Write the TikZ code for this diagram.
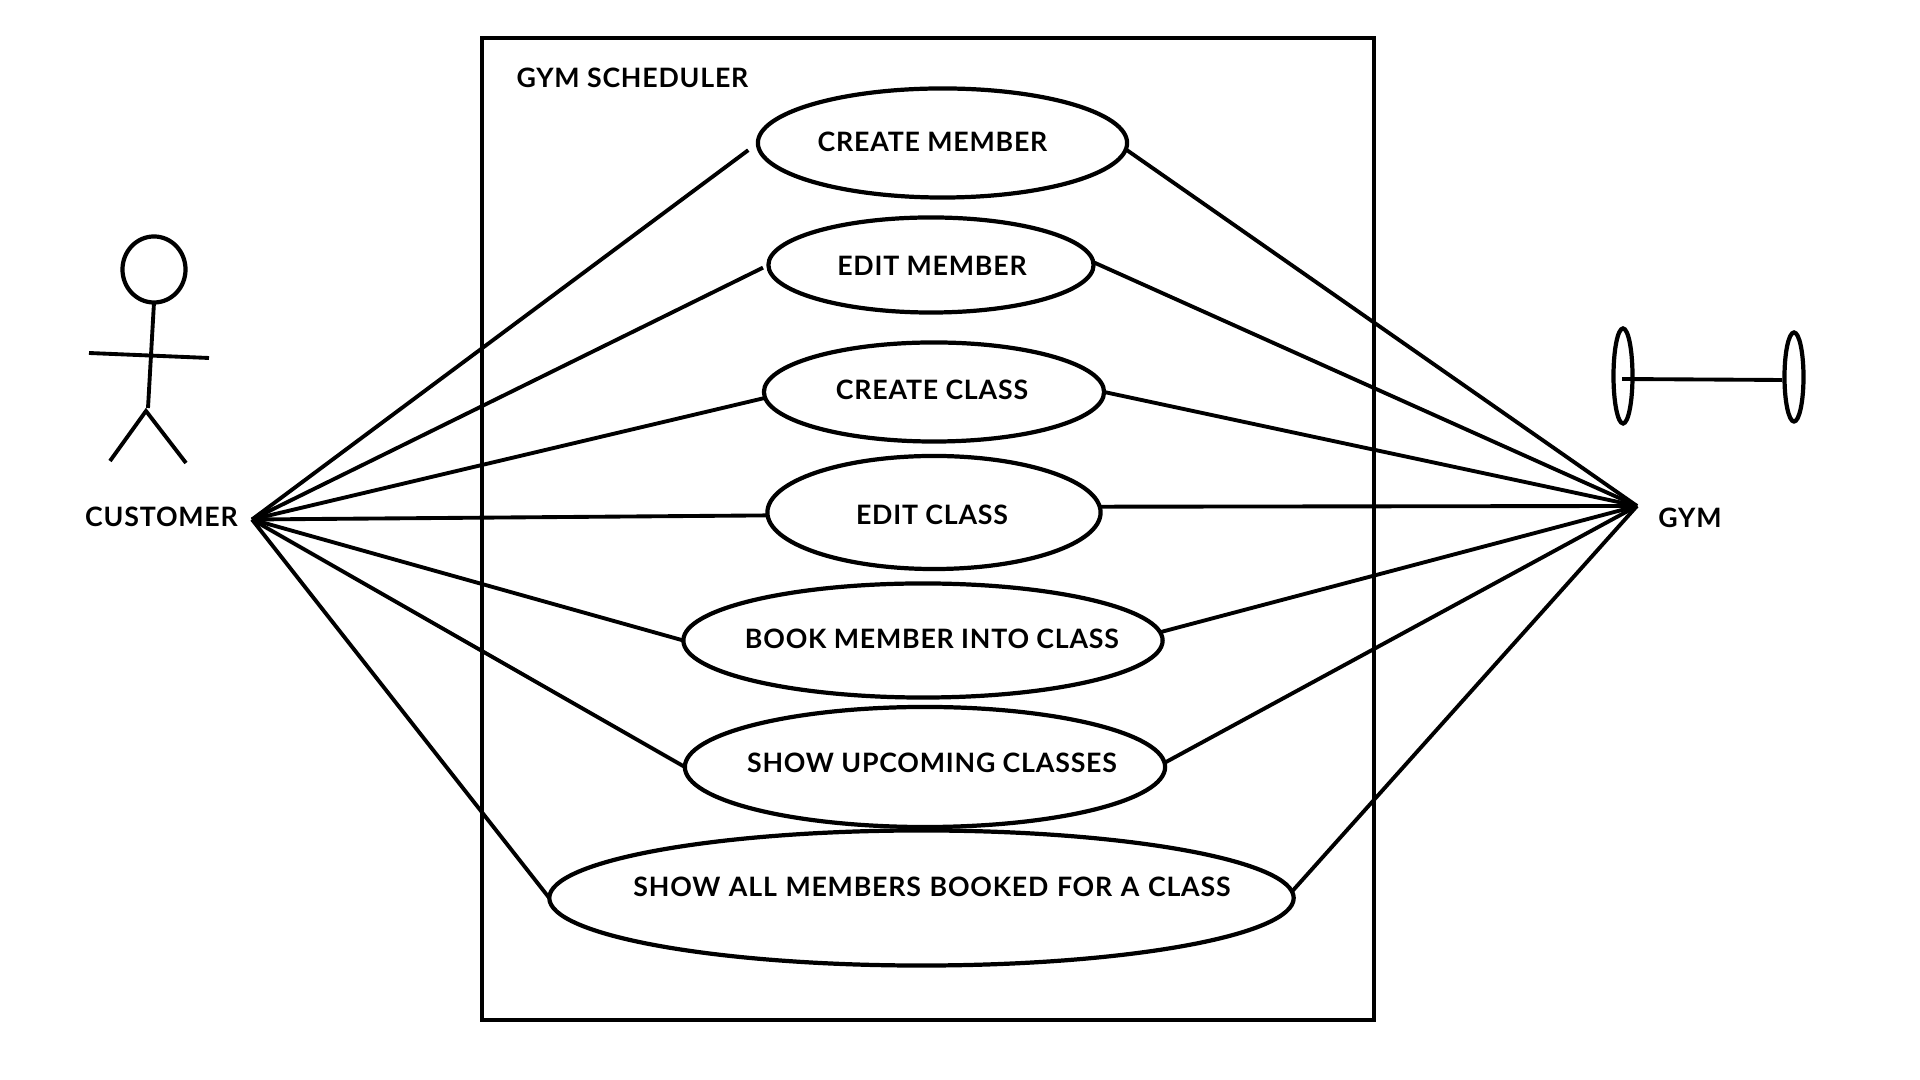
\documentclass[tikz,border=0pt]{standalone}
\usepackage{fontspec}
\setmainfont{Lato}[LetterSpace=3]
\usepackage{tikz}
\usetikzlibrary{shapes.geometric}
\tikzset{
  usecase/.style={ellipse,draw=black,line width=1.2pt,inner sep=0pt,outer sep=0pt},
  plate/.style={ellipse,draw=black,line width=1.2pt,inner sep=0pt,outer sep=0pt},
  head/.style={ellipse,draw=black,line width=1.2pt,inner sep=0pt,outer sep=0pt,minimum width=0.63cm,minimum height=0.66cm},
  sysbox/.style={rectangle,draw=black,line width=1.2pt,inner sep=0pt,outer sep=0pt,minimum width=8.92cm,minimum height=9.81cm},
  assoc/.style={line width=1.1pt,black},
  stick/.style={line width=1.1pt,black},
  lbl/.style={font=\fontsize{7.6}{9}\selectfont\bfseries,inner sep=0pt,outer sep=0pt},
}
\begin{document}
\begin{tikzpicture}[x=0.01cm,y=-0.01cm]
  \useasboundingbox (0,0) rectangle (1920,1080);
  % system boundary
  \node[sysbox] (sys) at (928,529){};
  \node[lbl] (systxt) at (632.5,78){GYM SCHEDULER};
  % use cases
  \foreach \i/\x/\y/\w/\h in {1/942.5/143/3.69/1.09, 2/931/265/3.25/0.95, 3/934/392/3.40/0.99,
                              4/934/512.5/3.33/1.13, 5/923/640.5/4.79/1.14, 6/925/767/4.80/1.20,
                              7/921.5/898/7.44/1.35}{
    \node[usecase,minimum width=\w cm,minimum height=\h cm] (uc\i) at (\x,\y){};}
  \foreach \i/\x/\y/\txt in {1/932.5/142/CREATE MEMBER, 2/932/265.5/EDIT MEMBER, 3/932/390/CREATE CLASS,
                             4/932/515/EDIT CLASS, 5/932/639/BOOK MEMBER INTO CLASS,
                             6/932/763/SHOW UPCOMING CLASSES,
                             7/932/887/{\spaceskip=0.32em SHOW ALL MEMBERS BOOKED FOR A CLASS}}{
    \node[lbl] (t\i) at (\x,\y){\txt};}
  % customer
  \node[head] (cusHead) at (154,269.5){};
  \coordinate (cusHip) at (148,408);
  \coordinate (cusArmL) at (89,353);
  \coordinate (cusArmR) at (209,358);
  \coordinate (cusFootL) at (110,461);
  \coordinate (cusFootR) at (186,463);
  \coordinate (cusCrotch) at (146,411);
  \draw[stick] (cusHead.south)--(cusHip);
  \draw[stick] (cusArmL)--(cusArmR);
  \draw[stick] (cusFootL)--(cusCrotch)--(cusFootR);
  \node[lbl] (cusTxt) at (161.5,517){CUSTOMER};
  % gym
  \node[plate,minimum width=0.19cm,minimum height=0.95cm] (plateL) at (1623,376){};
  \node[plate,minimum width=0.19cm,minimum height=0.89cm] (plateR) at (1794,377){};
  \coordinate (barL) at (1622,379);
  \coordinate (barR) at (1782,380);
  \draw[stick] (barL)--(barR);
  \node[lbl] (gymTxt) at (1690,517.5){GYM};
  % associations
  \coordinate (cusHub) at (252,519.5);
  \coordinate (gymHub) at (1637,506);
  \draw[assoc,shorten >=0.12cm] (cusHub)--(uc1.west);
  \draw[assoc,shorten >=0.06cm] (cusHub)--(uc2.west);
  \draw[assoc] (cusHub)--(uc3.182);
  \draw[assoc] (cusHub)--(uc4.181.5);
  \foreach \i in {5,6,7}{\draw[assoc] (cusHub)--(uc\i.west);}
  \foreach \i/\a in {1/-2, 2/1, 3/-0.5, 4/2, 5/2, 6/1, 7/1}{
    \draw[assoc] (uc\i.\a)--(gymHub);}
\end{tikzpicture}
\end{document}
